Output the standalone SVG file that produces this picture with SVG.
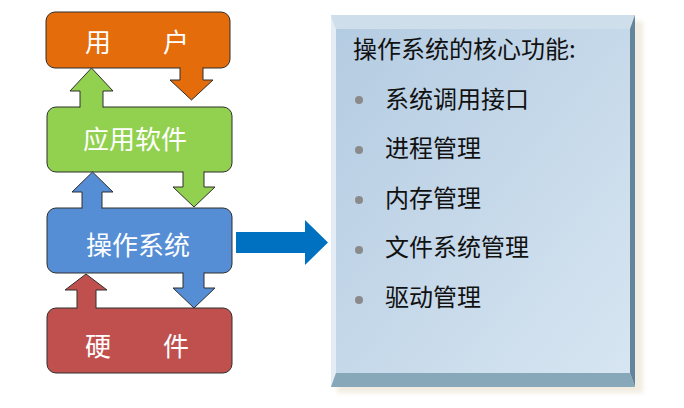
<svg xmlns="http://www.w3.org/2000/svg" width="684" height="408" viewBox="0 0 684 408">
<style>
.box{stroke:#2e2e2e;stroke-width:1}
.lbl{font-family:"Microsoft YaHei","Noto Sans CJK SC",sans-serif;font-size:26px;fill:#ffffff}
.txt{font-family:"Microsoft YaHei","Noto Sans CJK SC",sans-serif;font-size:24px;fill:#111111}
.edge{fill:none;stroke:#2e2e2e;stroke-width:1;stroke-linejoin:miter}
.bul{fill:#8a8a8a}
</style>
<defs>
<linearGradient id="face" x1="0" y1="0" x2="1" y2="1">
<stop offset="0" stop-color="#b3cbe1"/>
<stop offset="1" stop-color="#d8e6f2"/>
</linearGradient>
<filter id="blur" x="-10%" y="-10%" width="120%" height="120%"><feGaussianBlur stdDeviation="2"/></filter>
</defs>
<rect width="684" height="408" fill="#ffffff"/>

<g id="panel">
<rect x="337" y="21" width="306" height="372" fill="#f2ede2" filter="url(#blur)"/>
<rect x="331" y="15" width="304" height="372" fill="url(#face)"/>
<polygon points="331,15 635,15 630,29 336,29" fill="#cfdeeb"/>
<polygon points="331,15 336,29 336,373 331,387" fill="#e4edf5"/>
<polygon points="635,15 635,387 630,373 630,29" fill="#62859b"/>
<polygon points="331,387 635,387 630,373 336,373" fill="#87a8b9"/>
<text class="txt" x="353" y="57.5" font-size="24.5">操作系统的核心功能:</text>
<circle class="bul" cx="359" cy="100" r="4"/>
<text class="txt" x="385" y="107.5">系统调用接口</text>
<circle class="bul" cx="359" cy="150" r="4"/>
<text class="txt" x="385" y="157">进程管理</text>
<circle class="bul" cx="359" cy="200" r="4"/>
<text class="txt" x="385" y="206.5">内存管理</text>
<circle class="bul" cx="359" cy="250" r="4"/>
<text class="txt" x="385" y="256">文件系统管理</text>
<circle class="bul" cx="359" cy="300" r="4"/>
<text class="txt" x="385" y="305.5">驱动管理</text>
</g>

<g id="user">
<rect class="box" x="46" y="12" width="184" height="56" rx="9" fill="#e46c0a"/>
<text class="lbl" x="137" y="52" text-anchor="middle" font-size="26.5">用　　户</text>
</g>
<g id="software">
<rect class="box" x="47" y="107" width="185" height="65" rx="9" fill="#92d050"/>
<text class="lbl" x="135" y="148.5" text-anchor="middle">应用软件</text>
</g>
<g id="os">
<rect class="box" x="47" y="208" width="185" height="65" rx="9" fill="#558ed5"/>
<text class="lbl" x="138" y="255" text-anchor="middle" font-size="27">操作系统</text>
</g>
<g id="hardware">
<rect class="box" x="47" y="308" width="185" height="65" rx="9" fill="#c0504d"/>
<text class="lbl" x="137" y="356" text-anchor="middle" font-size="26.5">硬　　件</text>
</g>

<g id="connectors">
<polygon points="80,110 80,91 70,91 91.5,68 113,91 103,91 103,110" fill="#92d050"/>
<path class="edge" d="M80,107.5 V91 H70 L91.5,68 L113,91 H103 V107.5"/>
<polygon points="180,65 180,80 170,80 191.5,100 213,80 203,80 203,65" fill="#e46c0a"/>
<path class="edge" d="M180,67.5 V80 H170 L191.5,100 L213,80 H203 V67.5"/>
<polygon points="183,169 183,187 173,187 194,207 215,187 204,187 204,169" fill="#92d050"/>
<path class="edge" d="M183,171.5 V187 H173 L194,207 L215,187 H204 V171.5"/>
<polygon points="82,211 82,192 72,192 92.5,172 113,192 102,192 102,211" fill="#558ed5"/>
<path class="edge" d="M82,208.5 V192 H72 L92.5,172 L113,192 H102 V208.5"/>
<polygon points="183,270 183,288 173,288 194,308 215,288 204,288 204,270" fill="#558ed5"/>
<path class="edge" d="M183,272.5 V288 H173 L194,308 L215,288 H204 V272.5"/>
<polygon points="77,311 77,290 65,290 86,274 107,290 96,290 96,311" fill="#c0504d"/>
<path class="edge" d="M77,308.5 V290 H65 L86,274 L107,290 H96 V308.5"/>
<polygon points="236,232 305,232 305,220 328,242.5 305,265 305,253 236,253" fill="#0070c0"/>
</g>
</svg>
